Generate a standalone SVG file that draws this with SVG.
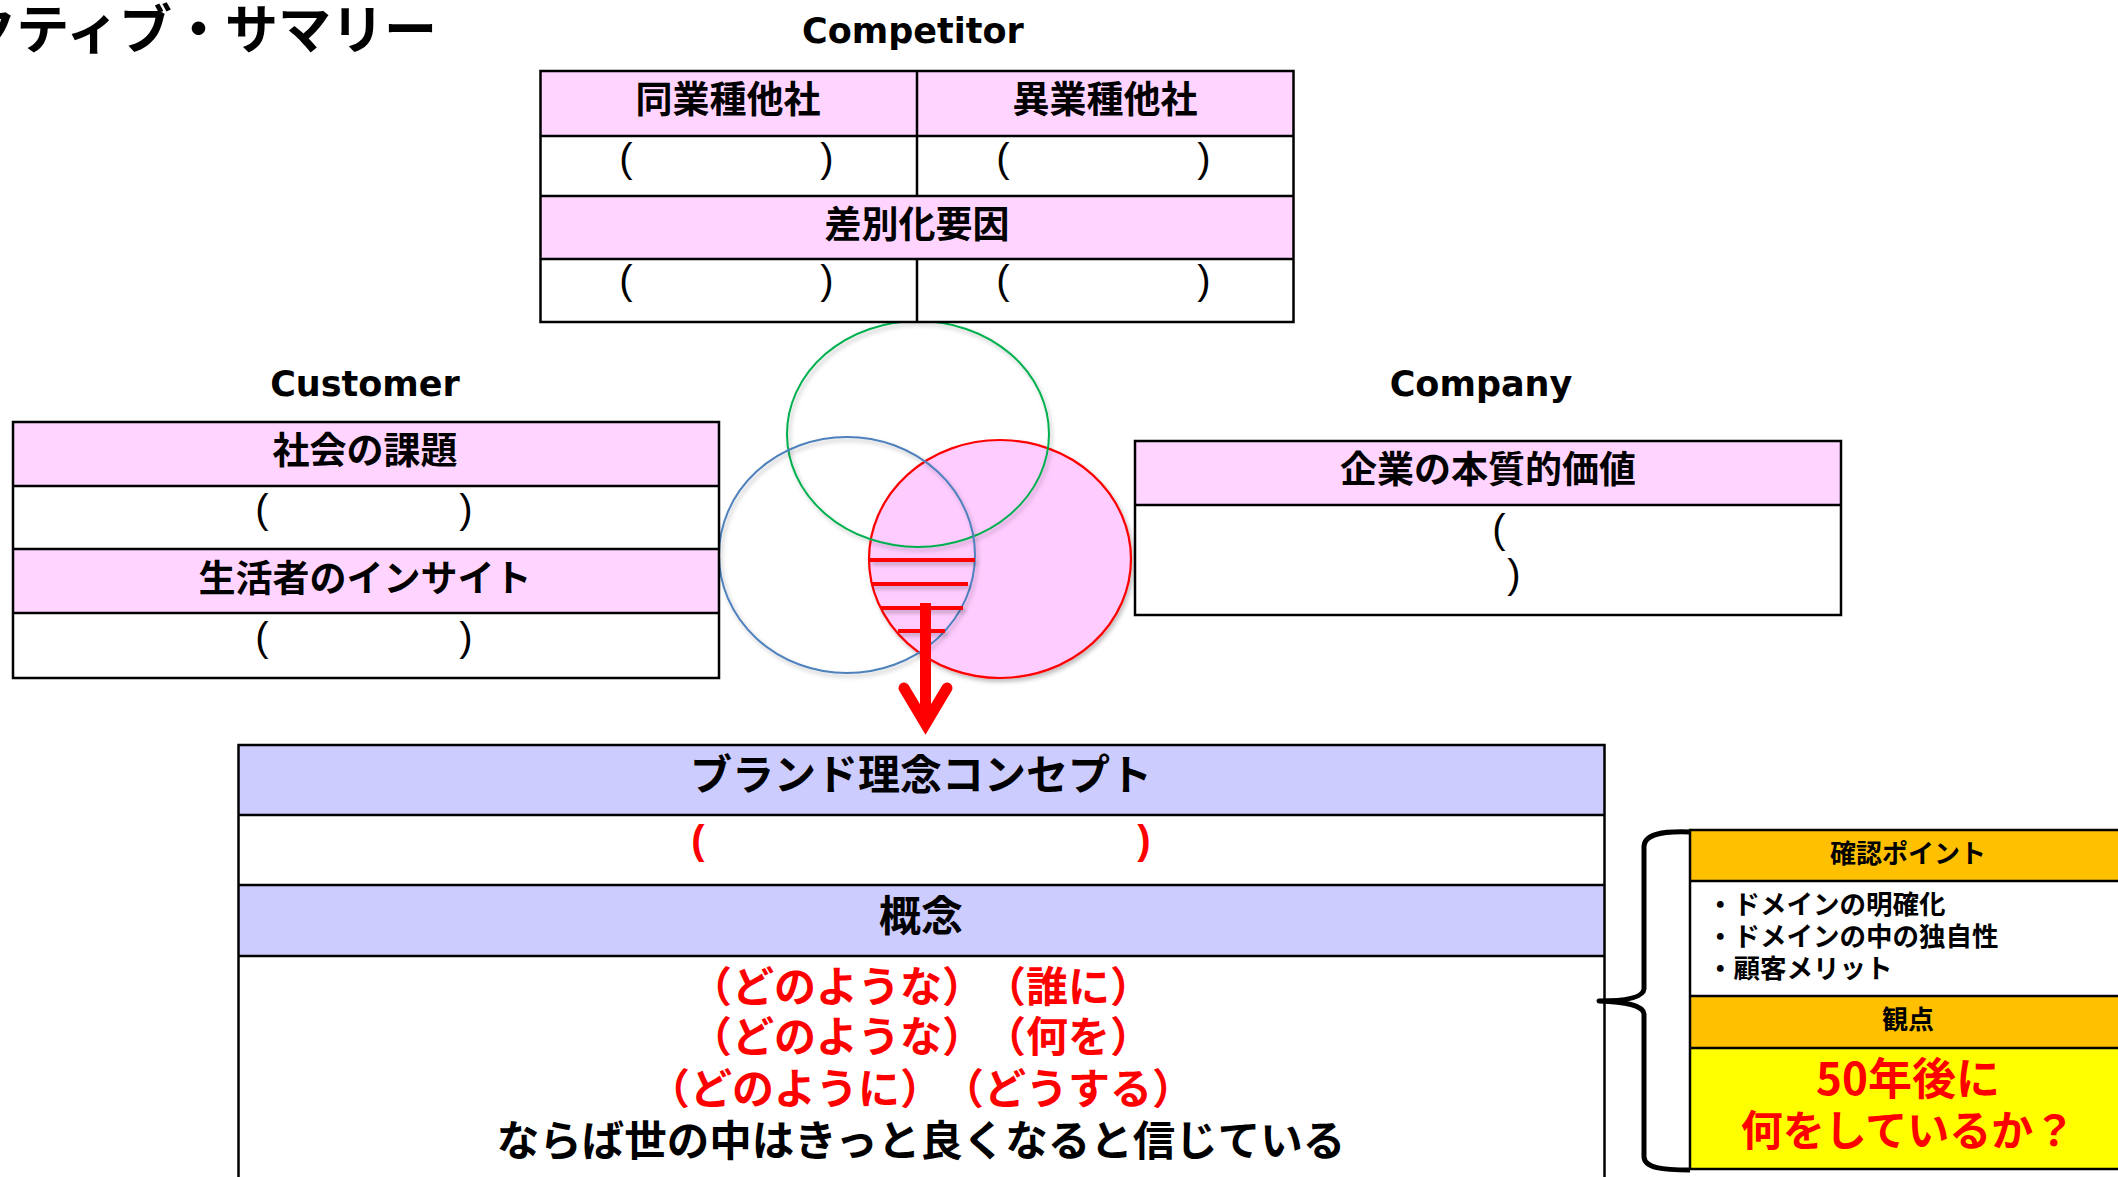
<svg xmlns="http://www.w3.org/2000/svg" width="2118" height="1177" viewBox="0 0 2118 1177">
<defs>
<style>
.jp{font-family:"Noto Sans CJK JP","Noto Sans CJK SC",sans-serif;font-weight:700;fill:#000;text-spacing-trim:space-all}
.lbl{font-family:"DejaVu Sans",sans-serif;font-weight:700;font-size:35px;fill:#000;text-anchor:middle}
.hd{font-size:37px;text-anchor:middle}
.par{font-family:"Liberation Sans",sans-serif;font-size:40px;fill:#000;text-anchor:middle}
.pink{fill:#FFD5FF;stroke:none}
.lav{fill:#CCCCFF;stroke:none}
.org{fill:#FFC000;stroke:none}
.yel{fill:#FFFF00;stroke:none}
.ln{stroke:#000;stroke-width:2.5;fill:none}
.lens{stroke:#FF0000;stroke-width:4;fill:none}
.rt{fill:#FF0000}
</style>
<filter id="sh" x="-10%" y="-10%" width="120%" height="130%">
<feDropShadow dx="2" dy="3" stdDeviation="2" flood-color="#000" flood-opacity="0.25"/>
</filter>
</defs>
<rect width="2118" height="1177" fill="#fff"/>

<g id="title">
<text class="jp" x="437" y="49" font-size="53" text-anchor="end">エグゼクティブ・サマリー</text>
</g>

<g id="venn">
<ellipse cx="1000" cy="559" rx="131" ry="119" fill="#FFCCFF" stroke="#FF0000" stroke-width="2.2" filter="url(#sh)"/>
<ellipse cx="918" cy="434" rx="131" ry="113" fill="none" stroke="#00B050" stroke-width="2" filter="url(#sh)"/>
<ellipse cx="847" cy="555" rx="128" ry="118" fill="none" stroke="#4F81BD" stroke-width="2" filter="url(#sh)"/>
<g filter="url(#sh)">
<line class="lens" x1="870" y1="560" x2="975" y2="560"/>
<line class="lens" x1="871" y1="584" x2="968" y2="584"/>
<line class="lens" x1="881" y1="608" x2="963" y2="608"/>
<line class="lens" x1="898" y1="631" x2="945" y2="631"/>
</g>
</g>

<g id="competitor">
<text class="lbl" x="913" y="43">Competitor</text>
<rect class="pink" x="540.5" y="71" width="753" height="65"/>
<rect class="pink" x="540.5" y="196" width="753" height="63"/>
<rect fill="#fff" x="540.5" y="136" width="753" height="60"/>
<rect fill="#fff" x="540.5" y="259" width="753" height="63"/>
<rect class="ln" x="540.5" y="71" width="753" height="251"/>
<line class="ln" x1="540.5" y1="136" x2="1293.5" y2="136"/>
<line class="ln" x1="540.5" y1="196" x2="1293.5" y2="196"/>
<line class="ln" x1="540.5" y1="259" x2="1293.5" y2="259"/>
<line class="ln" x1="917" y1="71" x2="917" y2="196"/>
<line class="ln" x1="917" y1="259" x2="917" y2="322"/>
<text class="jp hd" x="728" y="112.5">同業種他社</text>
<text class="jp hd" x="1105" y="112.5">異業種他社</text>
<text class="jp hd" x="917" y="237.5">差別化要因</text>
<text class="par" y="172"><tspan x="626">(</tspan><tspan x="827">)</tspan></text>
<text class="par" y="172"><tspan x="1003">(</tspan><tspan x="1204">)</tspan></text>
<text class="par" y="294"><tspan x="626">(</tspan><tspan x="827">)</tspan></text>
<text class="par" y="294"><tspan x="1003">(</tspan><tspan x="1204">)</tspan></text>
</g>

<g id="customer">
<text class="lbl" x="365" y="396">Customer</text>
<rect class="pink" x="13" y="422" width="706" height="64"/>
<rect fill="#fff" x="13" y="486" width="706" height="63"/>
<rect class="pink" x="13" y="549" width="706" height="64"/>
<rect fill="#fff" x="13" y="613" width="706" height="65"/>
<rect class="ln" x="13" y="422" width="706" height="256"/>
<line class="ln" x1="13" y1="486" x2="719" y2="486"/>
<line class="ln" x1="13" y1="549" x2="719" y2="549"/>
<line class="ln" x1="13" y1="613" x2="719" y2="613"/>
<text class="jp hd" x="365" y="463.5">社会の課題</text>
<text class="jp hd" x="365" y="591.5">生活者のインサイト</text>
<text class="par" y="523"><tspan x="262">(</tspan><tspan x="466">)</tspan></text>
<text class="par" y="651"><tspan x="262">(</tspan><tspan x="466">)</tspan></text>
</g>

<g id="company">
<text class="lbl" x="1481" y="396">Company</text>
<rect class="pink" x="1135" y="441" width="706" height="64"/>
<rect fill="#fff" x="1135" y="505" width="706" height="110"/>
<rect class="ln" x="1135" y="441" width="706" height="174"/>
<line class="ln" x1="1135" y1="505" x2="1841" y2="505"/>
<text class="jp hd" x="1488" y="482.5">企業の本質的価値</text>
<text class="par"><tspan x="1499" y="543">(</tspan><tspan x="1514" y="588">)</tspan></text>
</g>

<g id="connectors">
<line x1="925.5" y1="603" x2="925.5" y2="722" stroke="#FF0000" stroke-width="11"/>
<path d="M904 688 L925.5 724 L947 688" fill="none" stroke="#FF0000" stroke-width="11" stroke-linecap="round" stroke-linejoin="miter"/>
</g>

<g id="brand">
<rect class="lav" x="238.5" y="745" width="1366" height="70"/>
<rect fill="#fff" x="238.5" y="815" width="1366" height="70"/>
<rect class="lav" x="238.5" y="885" width="1366" height="71"/>
<rect fill="#fff" x="238.5" y="956" width="1366" height="250"/>
<rect class="ln" x="238.5" y="745" width="1366" height="460"/>
<line class="ln" x1="238.5" y1="815" x2="1604.5" y2="815"/>
<line class="ln" x1="238.5" y1="885" x2="1604.5" y2="885"/>
<line class="ln" x1="238.5" y1="956" x2="1604.5" y2="956"/>
<text class="jp" x="921" y="790" font-size="42" text-anchor="middle">ブランド理念コンセプト</text>
<text class="par" y="854" font-weight="700" style="fill:#FF0000"><tspan x="698">(</tspan><tspan x="1144">)</tspan></text>
<text class="jp" x="921" y="930.5" font-size="42" text-anchor="middle">概念</text>
<text class="jp rt" x="921" y="1001.5" font-size="42" text-anchor="middle" style="fill:#FF0000">（どのような）（誰に）</text>
<text class="jp rt" x="921" y="1051.5" font-size="42" text-anchor="middle" style="fill:#FF0000">（どのような）（何を）</text>
<text class="jp rt" x="921" y="1103.5" font-size="42" text-anchor="middle" style="fill:#FF0000">（どのように）（どうする）</text>
<text class="jp" x="921" y="1155.5" font-size="42.5" text-anchor="middle">ならば世の中はきっと良くなると信じている</text>
</g>

<g id="brace">
<path d="M1690 832 C1662 831 1645 834 1644 846 L1644 989 C1643 998 1625 1001 1599 1001 C1625 1002 1643 1005 1644 1014 L1644 1157 C1645 1168 1662 1170 1690 1170" fill="none" stroke="#000" stroke-width="5" stroke-linejoin="round"/>
</g>

<g id="check">
<rect class="org" x="1690" y="830" width="440" height="51"/>
<rect fill="#fff" x="1690" y="881" width="440" height="115"/>
<rect class="org" x="1690" y="996" width="440" height="52"/>
<rect class="yel" x="1690" y="1048" width="440" height="121"/>
<rect class="ln" x="1690" y="830" width="440" height="339"/>
<line class="ln" x1="1690" y1="881" x2="2130" y2="881"/>
<line class="ln" x1="1690" y1="996" x2="2130" y2="996"/>
<line class="ln" x1="1690" y1="1048" x2="2130" y2="1048"/>
<text class="jp" x="1908" y="862.5" font-size="26" text-anchor="middle">確認ポイント</text>
<text class="jp" x="1707" y="913.5" font-size="26.5">・ドメインの明確化</text>
<text class="jp" x="1707" y="945.5" font-size="26.5">・ドメインの中の独自性</text>
<text class="jp" x="1707" y="977.5" font-size="26.5">・顧客メリット</text>
<text class="jp" x="1908" y="1028.5" font-size="26" text-anchor="middle">観点</text>
<text class="jp" x="1908" y="1095" font-size="44" text-anchor="middle" style="fill:#FF0000">50年後に</text>
<text class="jp" x="1908" y="1145.5" font-size="42" text-anchor="middle" style="fill:#FF0000">何をしているか？</text>
</g>
</svg>
